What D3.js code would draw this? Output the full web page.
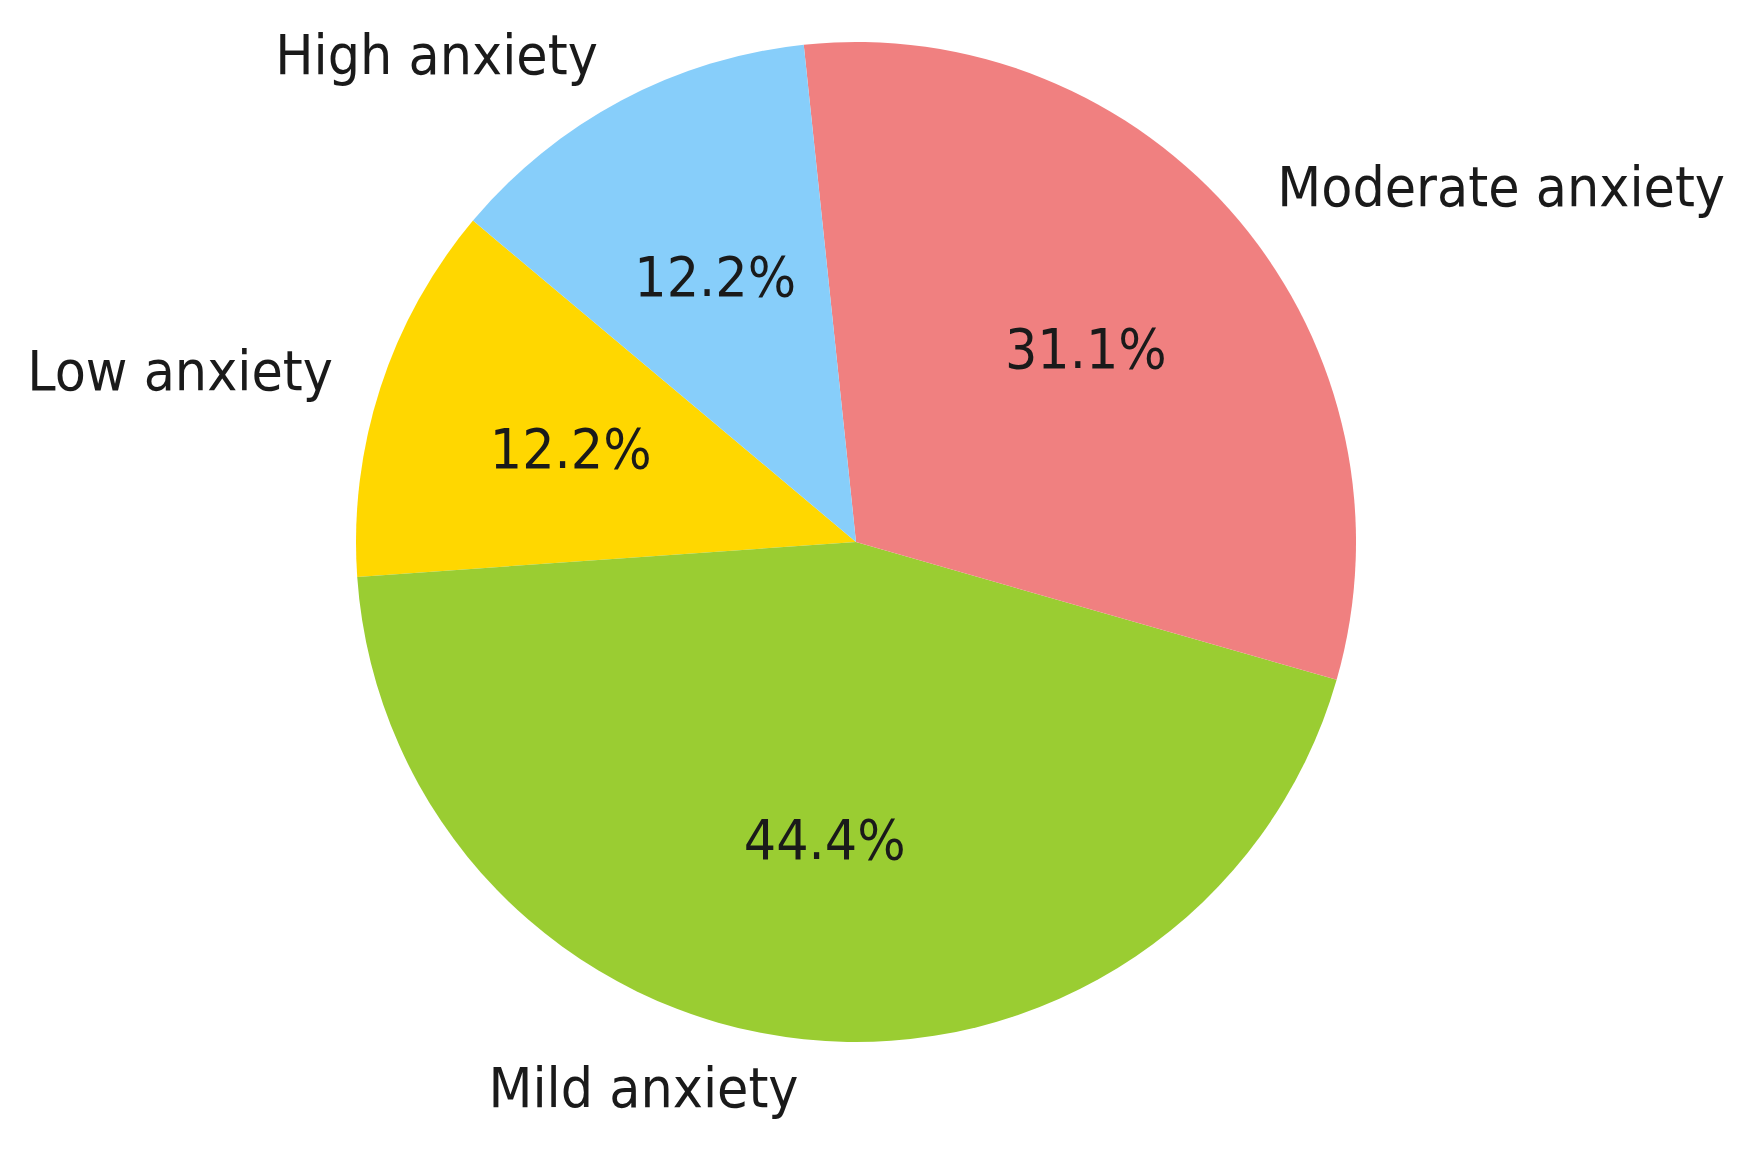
<!DOCTYPE html>
<html>
<head>
<meta charset="utf-8">
<script src="https://cdn.jsdelivr.net/npm/d3@7"></script>
<style>
  body { margin: 0; background: #fff; }
  text { font-family: "DejaVu Sans", sans-serif; fill: #1a1a1a; }
</style>
</head>
<body>
<script>
// data (counts out of 90)
const labels = ["Low anxiety", "Mild anxiety", "Moderate anxiety", "High anxiety"];
const counts = [11, 40, 28, 11];
const colors = ["#FFD700", "#9ACD32", "#F08080", "#87CEFA"];

const width = 1758, height = 1157;
const cx = 856, cy = 542, r = 500;
const fontSize = 56, squeeze = 0.91;

const svg = d3.select("body")
  .append("svg")
  .attr("width", width)
  .attr("height", height);

const g = svg.append("g").attr("transform", `translate(${cx},${cy})`);

// start at 140deg (counterclockwise from 3 o'clock) and go counterclockwise
const start = (90 - 140) * Math.PI / 180;
const pie = d3.pie()
  .sort(null)
  .value(d => d)
  .startAngle(start)
  .endAngle(start - 2 * Math.PI);

const arcs = pie(counts);
const total = d3.sum(counts);

const arc = d3.arc().innerRadius(0).outerRadius(r);

g.selectAll("path")
  .data(arcs)
  .enter()
  .append("path")
  .attr("d", arc)
  .attr("fill", (d, i) => colors[i]);

function mid(d) { return (d.startAngle + d.endAngle) / 2; }

// outer category labels
g.selectAll("g.lab")
  .data(arcs)
  .enter()
  .append("g")
  .attr("class", "lab")
  .attr("transform", d => {
    const a = mid(d);
    return `translate(${1.1 * r * Math.sin(a)},${-1.1 * r * Math.cos(a)}) scale(${squeeze},1)`;
  })
  .append("text")
  .attr("text-anchor", d => Math.sin(mid(d)) < 0 ? "end" : "start")
  .attr("dy", "0.32em")
  .style("font-size", fontSize + "px")
  .text((d, i) => labels[i]);

// percentage labels
g.selectAll("g.pct")
  .data(arcs)
  .enter()
  .append("g")
  .attr("class", "pct")
  .attr("transform", d => {
    const a = mid(d);
    return `translate(${0.6 * r * Math.sin(a)},${-0.6 * r * Math.cos(a)}) scale(${squeeze},1)`;
  })
  .append("text")
  .attr("text-anchor", "middle")
  .attr("dy", "0.34em")
  .style("font-size", fontSize + "px")
  .text(d => (d.value / total * 100).toFixed(1) + "%");
</script>
</body>
</html>
